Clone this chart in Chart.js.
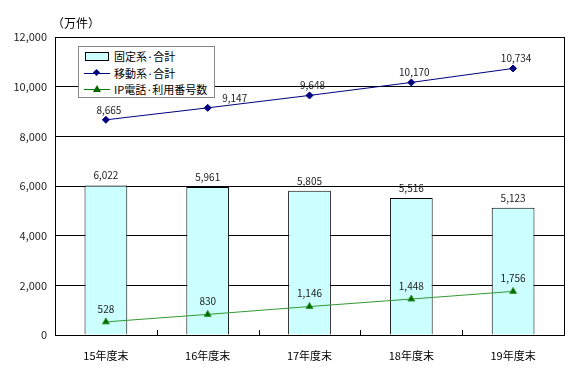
<!DOCTYPE html>
<html>
<head>
<meta charset="utf-8">
<script src="https://cdn.jsdelivr.net/npm/chart.js@4.4.0/dist/chart.umd.min.js"></script>
<style>
    html, body { margin: 0; padding: 0; background: #fff; }
    #wrap { position: relative; width: 588px; height: 379px; }
    #legend {
        position: absolute; left: 78px; top: 46px; width: 135px; height: 50px;
        border: 1px solid #888; background: #fff;
        font-family: "Noto Sans CJK JP", sans-serif; font-size: 11px; color: #000;
    }
    .row { position: absolute; left: 5px; height: 16px; line-height: 16px; }
    .row span.t { position: absolute; left: 30px; top: 0; white-space: nowrap; }
    .sw { position: absolute; left: 0; top: 0; width: 26px; height: 16px; }
    .box { position: absolute; left: 1px; top: 4px; width: 22px; height: 7px; background: #ccffff; border: 1px solid #000; }
    .ln { position: absolute; left: 0; top: 8px; width: 26px; height: 1px; }
    .dia { position: absolute; left: 10px; top: 5px; width: 5px; height: 5px; transform: rotate(45deg); }
    .tri { position: absolute; left: 9px; top: 4px; width: 0; height: 0;
           border-left: 4px solid transparent; border-right: 4px solid transparent; border-bottom: 7px solid #006600; }
</style>
</head>
<body>
<div id="wrap">
    <canvas id="chart" width="588" height="379"></canvas>
    <div id="legend">
        <div class="row" style="top:1px"><div class="sw"><div class="box"></div></div><span class="t">固定系·合計</span></div>
        <div class="row" style="top:18px"><div class="sw"><div class="ln" style="background:#000080"></div><div class="dia" style="background:#000080"></div></div><span class="t">移動系·合計</span></div>
        <div class="row" style="top:34px"><div class="sw"><div class="ln" style="background:#008000"></div><div class="tri"></div></div><span class="t">IP電話·利用番号数</span></div>
    </div>
</div>
<script>
var categories = ['15年度末', '16年度末', '17年度末', '18年度末', '19年度末'];
var fixedTotal = [6022, 5961, 5805, 5516, 5123];
var mobileTotal = [8665, 9147, 9648, 10170, 10734];
var ipPhone = [528, 830, 1146, 1448, 1756];
var seriesNames = ['固定系·合計', '移動系·合計', 'IP電話·利用番号数'];
var yMin = 0, yMax = 12000, yStep = 2000;
var yUnit = '（万件）';

var FONT = '"Noto Sans CJK JP", sans-serif';

// value labels, plot frame, inner tick marks and the unit text
var extras = {
    id: 'extras',
    afterDatasetsDraw: function (chart) {
        var ctx = chart.ctx;
        var area = chart.chartArea;
        var x = chart.scales.x;
        ctx.save();
        ctx.strokeStyle = '#000';
        ctx.lineWidth = 1;
        ctx.strokeRect(Math.round(area.left) + 0.5, Math.round(area.top) + 0.5,
            Math.round(area.right - area.left), Math.round(area.bottom - area.top));
        ctx.beginPath();
        for (var i = 1; i < categories.length; i++) {
            var px = Math.round((x.getPixelForValue(i - 1) + x.getPixelForValue(i)) / 2) + 0.5;
            ctx.moveTo(px, area.bottom);
            ctx.lineTo(px, area.bottom - 5);
        }
        ctx.stroke();

        ctx.font = '10px ' + FONT;
        ctx.fillStyle = '#222';
        ctx.textAlign = 'center';
        ctx.textBaseline = 'middle';
        // datasets: 0 mobile line, 1 IP line, 2 fixed bars
        var offsets = [10, 13, 10];
        chart.data.datasets.forEach(function (ds, di) {
            var meta = chart.getDatasetMeta(di);
            meta.data.forEach(function (el, i) {
                var dx = di == 0 ? 3 : 0;
                // the 16年度末 mobile label sits right of the legend box
                if (di == 0 && i == 1) dx = 27;
                ctx.fillText(ds.data[i].toLocaleString('en-US'), el.x + dx, el.y - offsets[di]);
            });
        });

        ctx.font = '12px ' + FONT;
        ctx.fillStyle = '#000';
        ctx.textAlign = 'left';
        ctx.fillText(yUnit, area.left - 3, 23);
        ctx.restore();
    }
};

new Chart(document.getElementById('chart'), {
    type: 'bar',
    data: {
        labels: categories,
        datasets: [
            {
                type: 'line',
                label: seriesNames[1],
                data: mobileTotal,
                borderColor: '#000080',
                backgroundColor: '#000080',
                borderWidth: 1,
                pointStyle: 'rectRot',
                pointRadius: 3.5,
                order: 1
            },
            {
                type: 'line',
                label: seriesNames[2],
                data: ipPhone,
                borderColor: '#339933',
                backgroundColor: '#006600',
                borderWidth: 1,
                pointStyle: 'triangle',
                pointRadius: 4,
                order: 1
            },
            {
                label: seriesNames[0],
                data: fixedTotal,
                backgroundColor: '#ccffff',
                borderColor: '#000',
                borderWidth: 1,
                categoryPercentage: 1,
                barPercentage: 0.42,
                order: 2
            }
        ]
    },
    options: {
        responsive: false,
        animation: false,
        layout: { padding: { top: 37, right: 24, left: 0, bottom: 0 } },
        plugins: {
            legend: { display: false },
            tooltip: { enabled: false }
        },
        scales: {
            x: {
                grid: { display: false },
                border: { display: false },
                ticks: { color: '#000', font: { family: FONT, size: 11 }, padding: 6 },
                afterFit: function (s) { s.height = 44; }
            },
            y: {
                min: yMin,
                max: yMax,
                grid: { color: '#000', lineWidth: 1, drawTicks: false },
                border: { display: true, color: '#000' },
                ticks: {
                    stepSize: yStep,
                    color: '#222',
                    padding: 8,
                    font: { family: FONT, size: 11 },
                    callback: function (v) { return v.toLocaleString('en-US'); }
                },
                afterFit: function (s) { s.width = 55; }
            }
        }
    },
    plugins: [extras]
});
</script>
</body>
</html>
